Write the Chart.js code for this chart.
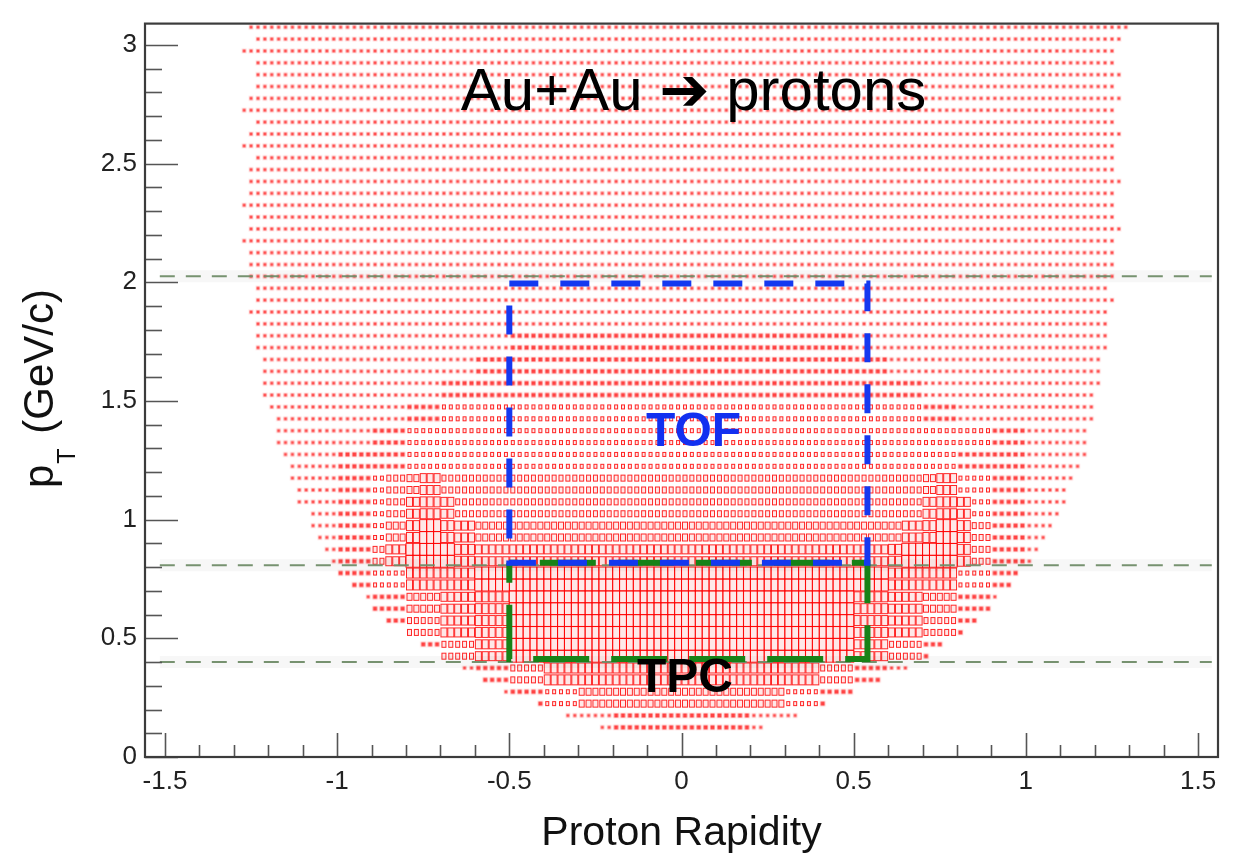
<!DOCTYPE html>
<html><head><meta charset="utf-8">
<script src="https://cdn.jsdelivr.net/npm/chart.js@4.4.0/dist/chart.umd.min.js"></script>
<style>html,body{margin:0;padding:0;background:#fff;}</style>
</head><body>
<canvas id="c" width="1238" height="858"></canvas>
<script>
// ---------------- DATA ----------------
// pT bin centres of the 2D histogram rows (GeV/c)
const rowPt = [0.125,0.175,0.225,0.275,0.325,0.375,0.425,0.475,0.525,0.575,
               0.625,0.675,0.725,0.775,0.825,0.875,0.925,0.975,1.025,1.075,
               1.125,1.175,1.225,1.275,1.325,1.375,1.425,1.475,1.525,1.575,
               1.625,1.675,1.725,1.775,1.825,1.875,1.925,1.975,2.025,2.075,
               2.125,2.175,2.225,2.275,2.325,2.375,2.425,2.475,2.525,2.575,
               2.625,2.675,2.725,2.775,2.825,2.875,2.925,2.975,3.025,3.075];
// first / last filled rapidity bin centre in each row
const rowYMin = [-0.23,-0.33,-0.41,-0.51,-0.57,-0.63,-0.69,-0.75,-0.79,-0.85,
                 -0.89,-0.91,-0.95,-0.99,-1.01,-1.03,-1.05,-1.07,-1.07,-1.11,
                 -1.11,-1.13,-1.13,-1.15,-1.17,-1.17,-1.17,-1.19,-1.21,-1.21,
                 -1.21,-1.21,-1.23,-1.23,-1.23,-1.25,-1.23,-1.23,-1.25,-1.25,
                 -1.25,-1.27,-1.25,-1.25,-1.27,-1.25,-1.25,-1.25,-1.23,-1.27,
                 -1.25,-1.23,-1.27,-1.25,-1.23,-1.23,-1.23,-1.27,-1.23,-1.25];
const rowYMax = [0.23,0.33,0.41,0.49,0.57,0.65,0.71,0.75,0.81,0.85,
                 0.89,0.91,0.95,0.97,1.01,1.03,1.05,1.07,1.09,1.11,
                 1.11,1.13,1.15,1.17,1.17,1.17,1.19,1.19,1.19,1.21,
                 1.21,1.21,1.23,1.23,1.23,1.23,1.25,1.23,1.25,1.25,
                 1.25,1.25,1.27,1.25,1.25,1.25,1.27,1.25,1.25,1.25,
                 1.27,1.25,1.25,1.27,1.25,1.27,1.25,1.25,1.27,1.29];
// relative box size (3..9, A=10) in coarse cells.
// rows: pT bands starting at densityBandPt; columns: rapidity bands of 0.05,
// left half -1.3..0 | right half 0..1.3 (26 + 26 characters, spaces ignored)
const densityBandPt = [0.1,0.2,0.3,0.4,0.5,0.6,0.7,0.8,0.9,1.0,1.1,1.2,1.3,1.4,1.5,1.6,1.7,1.8,1.9,2.0];
const densityRows = [
  "33333 33333 33333 33333 33444 4|44443 33333 33333 33333 33333 3",
  "33333 33333 33333 34455 77777 7|77777 75544 33333 33333 33333 3",
  "33333 33333 33334 46699 99999 9|99999 99966 44333 33333 33333 3",
  "33333 33333 44668 8AAAA AAAAA A|AAAAA AAAAA 88664 43333 33333 3",
  "33333 33344 66889 9AAAA AAAAA A|AAAAA AAAAA 99886 64433 33333 3",
  "33333 33344 77889 9AAAA AAAAA A|AAAAA AAAAA 99887 74433 33333 3",
  "33333 34455 9999A AAAAA AAAAA A|AAAAA AAAAA AA999 95544 33333 3",
  "33333 34468 AAA98 88888 88888 8|88888 88888 889AA A9644 33333 3",
  "33333 34457 9A987 77777 77777 7|77777 77777 77789 A9644 33333 3",
  "33333 34456 89866 66666 66666 6|66666 66666 66668 98544 33333 3",
  "33333 34456 78666 66666 66666 6|66666 66666 66667 85544 33333 3",
  "33333 34444 55555 55555 55555 5|55555 55555 55555 54444 33333 3",
  "33333 33344 55555 55555 55555 5|55555 55555 55555 55544 33333 3",
  "33333 33333 44555 55555 55555 5|55555 55555 55554 43333 33333 3",
  "33333 33333 33444 44444 44444 4|44444 44444 44443 33333 33333 3",
  "33333 33333 33334 44444 44444 4|44444 44444 44333 33333 33333 3",
  "33333 33333 33333 34444 44444 4|44444 44444 33333 33333 33333 3",
  "33333 33333 33333 33333 33333 3|33333 33333 33333 33333 33333 3",
  "33333 33333 33333 33333 33333 3|33333 33333 33333 33333 33333 3",
  "33333 33333 33333 33333 33333 3|33333 33333 33333 33333 33333 3"
];
const binWidthY = 0.02, binWidthPt = 0.05;

const xTickValues = [-1.5,-1,-0.5,0,0.5,1,1.5];
const xTickLabels = ['-1.5','-1','-0.5','0','0.5','1','1.5'];
const yTickValues = [0,0.5,1,1.5,2,2.5,3];
const yTickLabels = ['0','0.5','1','1.5','2','2.5','3'];

const cutLinesPt = [0.4, 0.808, 2.025];
const cutLineY = [-1.515, 1.54];
const tofBoxY = [-0.5, 0.54], tofBoxPt = [0.818, 1.995];
const tpcBoxY = [-0.5, 0.54], tpcBoxPt = [0.413, 0.818];

// ---------------- build histogram cells ----------------
const densityGrid = densityRows.map(s => s.replace(/[ |]/g, ''));
function levelOf(y, pt){
  let b = 0;
  for (let i = 0; i < densityBandPt.length; i++) if (pt >= densityBandPt[i]) b = i;
  let c = Math.floor((y + 1.3) / 0.05 + 1e-9);
  c = Math.max(0, Math.min(51, c));
  const ch = densityGrid[b][c] || '3';
  return ch === 'A' ? 10 : parseInt(ch, 10);
}
const cells = [];
rowPt.forEach((pt, r) => {
  const n = Math.round((rowYMax[r] - rowYMin[r]) / binWidthY);
  for (let j = 0; j <= n; j++) {
    const y = +(rowYMin[r] + j * binWidthY).toFixed(2);
    cells.push({x: y, y: pt, lvl: levelOf(y, pt)});
  }
});

const FONT = '"Liberation Sans", Arial, "DejaVu Sans", sans-serif';
const boxCache = {};
function boxImage(chart, lvl){
  if (boxCache[lvl]) return boxCache[lvl];
  const xs = chart.scales.x, ys = chart.scales.y;
  const cw = Math.abs(xs.getPixelForValue(binWidthY) - xs.getPixelForValue(0));
  const chh = Math.abs(ys.getPixelForValue(binWidthPt) - ys.getPixelForValue(0));
  const f = lvl / 10;
  const valid = isFinite(cw) && isFinite(chh) && cw > 0;
  let w = valid ? Math.max(3, Math.round(cw * f)) : 3;
  let h = valid ? Math.max(3, Math.round(chh * Math.pow(f, 1.4))) : 3;
  if (lvl === 3) { w = 3; h = 3; }
  if (lvl === 4) { w = 4; h = 4; }
  const pad = 2;
  const c = document.createElement('canvas');
  c.width = w + 1 + 2 * pad; c.height = h + 1 + 2 * pad;
  const g = c.getContext('2d');
  if (lvl <= 4) {
    g.fillStyle = 'rgba(255,80,80,0.16)';
    g.fillRect(pad - 0.5, pad - 0.5, w + 2, h + 2);
    g.fillStyle = lvl === 3 ? 'rgba(255,40,40,0.78)' : 'rgba(255,30,30,0.82)';
    g.fillRect(pad + 0.5, pad + 0.5, w, h);
  } else {
    g.fillStyle = 'rgba(255,90,90,0.14)';
    g.fillRect(pad + 1, pad + 1, w - 1, h - 1);
    g.strokeStyle = 'rgba(255,0,0,0.85)';
    g.lineWidth = 1;
    g.strokeRect(pad + 0.5, pad + 0.5, w, h);
  }
  if (valid) boxCache[lvl] = c;
  return c;
}

const datasets = [];
// TOF box: start at the top-left corner
datasets.push({label:'TOF', showLine:true, pointRadius:0, tension:0,
  data:[{x:tofBoxY[0],y:tofBoxPt[1]},{x:tofBoxY[1],y:tofBoxPt[1]},{x:tofBoxY[1],y:tofBoxPt[0]},
        {x:tofBoxY[0],y:tofBoxPt[0]},{x:tofBoxY[0],y:tofBoxPt[1]}],
  borderColor:'#1438f0', borderWidth:6, borderDash:[29,22], borderCapStyle:'butt', order:0});
// TPC box
datasets.push({label:'TPC', showLine:true, pointRadius:0, tension:0,
  data:[{x:tpcBoxY[0],y:tpcBoxPt[1]},{x:tpcBoxY[0],y:tpcBoxPt[0]},{x:tpcBoxY[1],y:tpcBoxPt[0]},
        {x:tpcBoxY[1],y:tpcBoxPt[1]},{x:tpcBoxY[0],y:tpcBoxPt[1]}],
  borderColor:'#178217', borderWidth:6, borderDash:[56,22], borderDashOffset:36, borderCapStyle:'butt', order:1});
cutLinesPt.forEach((p, i) => {
  datasets.push({label:'cut'+i, data: cutLineY.map(y => ({x:y, y:p})), showLine:true, pointRadius:0,
    borderColor:'rgba(112,140,104,0.95)', borderWidth:2, borderDash:[15,11], order:2+i});
  datasets.push({label:'halo'+i, data: cutLineY.map(y => ({x:y, y:p})), showLine:true, pointRadius:0,
    borderColor:'rgba(0,0,0,0.03)', borderWidth:12, order:6+i});
});
datasets.push({label:'hist', data: cells, order:20, pointRadius:3, borderWidth:0,
  pointStyle: (ctx) => (ctx.raw && ctx.raw.lvl) ? boxImage(ctx.chart, ctx.raw.lvl) : 'rect'});

const overlay = {
  id:'overlay',
  afterDraw(chart){
    const ctx = chart.ctx, a = chart.chartArea;
    const xs = chart.scales.x, ys = chart.scales.y;
    ctx.save();
    // ticks (ROOT style, inside)
    ctx.strokeStyle = '#555'; ctx.lineWidth = 1.6;
    for (let k = 0; k <= 30; k++) {
      const v = k / 10, py = Math.round(ys.getPixelForValue(v)) + 0.5;
      const len = (k % 5 === 0) ? 33 : 17;
      ctx.beginPath(); ctx.moveTo(a.left, py); ctx.lineTo(a.left + len, py); ctx.stroke();
    }
    for (let k = -15; k <= 15; k++) {
      const v = k / 10, px = Math.round(xs.getPixelForValue(v)) + 0.5;
      const len = (k % 5 === 0) ? 24 : 12;
      ctx.beginPath(); ctx.moveTo(px, a.bottom); ctx.lineTo(px, a.bottom - len); ctx.stroke();
    }
    // frame
    ctx.strokeStyle = '#3c3c3c'; ctx.lineWidth = 2.2;
    ctx.strokeRect(a.left, a.top, a.right - a.left, a.bottom - a.top);
    // title
    ctx.fillStyle = '#000';
    ctx.textAlign = 'center'; ctx.textBaseline = 'alphabetic';
    ctx.font = '60px ' + FONT;
    ctx.fillText('Au+Au \u2794 protons', xs.getPixelForValue(0.035), ys.getPixelForValue(2.726));
    ctx.font = 'bold 48px ' + FONT;
    ctx.fillStyle = '#1230f0';
    ctx.fillText('TOF', xs.getPixelForValue(0.035), ys.getPixelForValue(1.311));
    ctx.fillStyle = '#000';
    ctx.fillText('TPC', xs.getPixelForValue(0.01), ys.getPixelForValue(0.274));
    // x title
    ctx.fillStyle = '#111';
    ctx.font = '41px ' + FONT;
    ctx.fillText('Proton Rapidity', xs.getPixelForValue(0), 845);
    // y title: p_T (GeV/c)
    ctx.translate(53, 488); ctx.rotate(-Math.PI / 2);
    ctx.textAlign = 'left';
    ctx.font = '42px ' + FONT;
    ctx.fillText('p', 0, 0);
    const wp = ctx.measureText('p').width;
    ctx.font = '25px ' + FONT;
    ctx.fillText('T', wp + 1, 22);
    const wt = ctx.measureText('T').width;
    ctx.font = '42px ' + FONT;
    ctx.fillText(' (GeV/c)', wp + wt + 4, 0);
    ctx.restore();
  }
};

new Chart(document.getElementById('c'), {
  type:'scatter',
  data:{datasets},
  options:{
    responsive:false, animation:false, events:[],
    layout:{padding:{left:0, right:20, top:13, bottom:0}},
    plugins:{legend:{display:false}, tooltip:{enabled:false}},
    scales:{
      x:{type:'linear', min:-1.558, max:1.558,
         grid:{display:false, drawTicks:false}, border:{display:false},
         afterBuildTicks: s => { s.ticks = xTickValues.map(v => ({value:v})); },
         afterFit: s => { s.height = 101; },
         ticks:{padding:9, color:'#222', font:{family:FONT, size:26}, maxRotation:0, autoSkip:false,
                callback:(v, i) => xTickLabels[i]}},
      y:{type:'linear', min:0, max:3.09,
         grid:{display:false, drawTicks:false}, border:{display:false},
         afterBuildTicks: s => { s.ticks = yTickValues.map(v => ({value:v})); },
         afterFit: s => { s.width = 145; },
         ticks:{padding:8, color:'#222', font:{family:FONT, size:26}, autoSkip:false,
                callback:(v, i) => yTickLabels[i]}}
    }
  },
  plugins:[overlay]
});
</script>
</body></html>
